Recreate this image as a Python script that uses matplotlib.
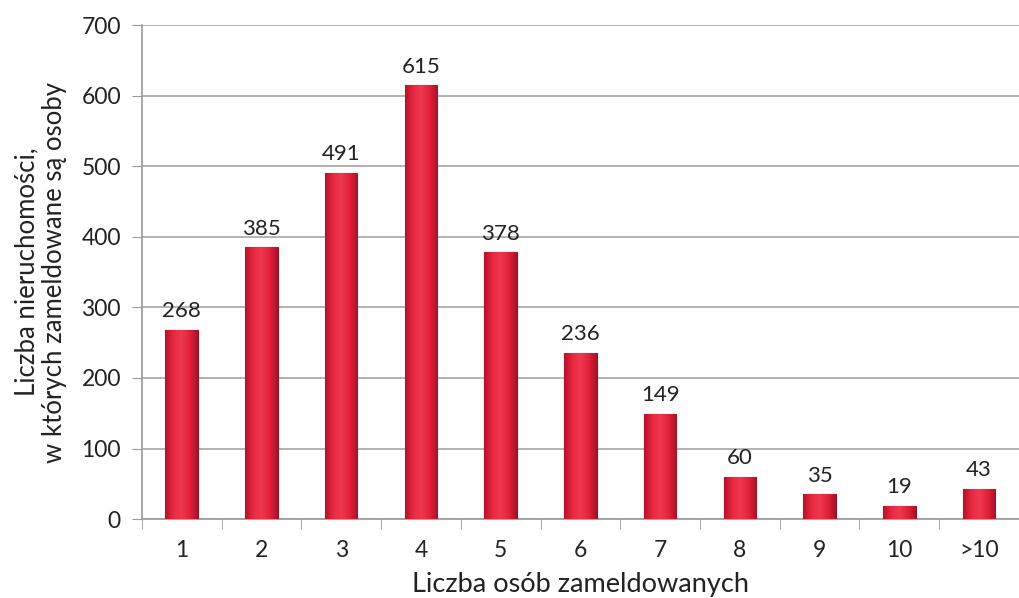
import numpy as np
import matplotlib.pyplot as plt
from matplotlib.colors import LinearSegmentedColormap

categories = ['1', '2', '3', '4', '5', '6', '7', '8', '9', '10', '>10']
values = [268, 385, 491, 615, 378, 236, 149, 60, 35, 19, 43]

plt.rcParams['font.family'] = ['Lato', 'DejaVu Sans']

fig = plt.figure(figsize=(10.2, 5.98), dpi=100)
ax = fig.add_axes([0.139, 0.132, 0.86, 0.826])

x = np.arange(1, len(values) + 1)
bars = ax.bar(x, values, width=0.41, color='#e2213a', edgecolor='#8e1424',
              linewidth=0.8, zorder=3)

# horizontal shading on each bar
cmap = LinearSegmentedColormap.from_list('redbar', ['#b3132a', '#e8273f', '#ee3a50', '#e2213a', '#a9122a'])
grad = np.linspace(0, 1, 64).reshape(1, -1)
for b in bars:
    x0, y0 = b.get_x(), b.get_y()
    w, h = b.get_width(), b.get_height()
    im = ax.imshow(grad, cmap=cmap, aspect='auto', extent=[x0, x0 + w, y0, y0 + h],
                   zorder=3.5)
    im.set_clip_path(b)

for xi, v in zip(x, values):
    ax.text(xi, v + 12, str(v), ha='center', va='bottom', fontsize=16, color='#222222', zorder=4)

ax.set_xlim(0.5, len(values) + 0.5)
ax.set_ylim(0, 700)
ax.set_yticks(np.arange(0, 701, 100))
ax.set_xticks(x)
ax.set_xticklabels(categories)
ax.set_xticks(np.arange(0.5, len(values) + 1, 1), minor=True)
ax.tick_params(axis='x', which='major', length=0, pad=15, labelsize=16.5, labelcolor='#222222')
ax.tick_params(axis='x', which='minor', length=7, color='#9a9a9a', direction='out')
ax.tick_params(axis='y', length=7, color='#9a9a9a', labelsize=16.5, labelcolor='#222222', pad=8)

ax.grid(axis='y', color='#a6a6a6', linewidth=1.2, zorder=0)
ax.set_axisbelow(True)
for s in ['top', 'right']:
    ax.spines[s].set_visible(False)
ax.spines['left'].set_color('#9a9a9a')
ax.spines['bottom'].set_color('#9a9a9a')
ax.spines['left'].set_linewidth(1.2)
ax.spines['bottom'].set_linewidth(1.2)

ax.set_xlabel('Liczba osób zameldowanych', fontsize=19.5, color='#222222', labelpad=8)
ax.set_ylabel('Liczba nieruchomości,\nw których zameldowane są osoby', fontsize=18.5,
              color='#222222', labelpad=10, linespacing=1.15)

fig.savefig('out.png', dpi=100)
